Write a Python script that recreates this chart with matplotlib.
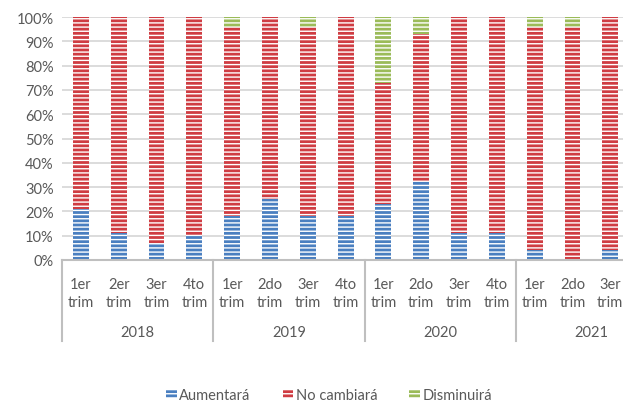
import matplotlib.pyplot as plt
from matplotlib.patches import Patch
import numpy as np

plt.rcParams['font.family'] = ['Lato', 'DejaVu Sans']
plt.rcParams['hatch.linewidth'] = 1.0

# datos (porcentajes)
anios = ['2018', '2019', '2020', '2021']
trimestres = [['1er\ntrim', '2er\ntrim', '3er\ntrim', '4to\ntrim'],
              ['1er\ntrim', '2do\ntrim', '3er\ntrim', '4to\ntrim'],
              ['1er\ntrim', '2do\ntrim', '3er\ntrim', '4to\ntrim'],
              ['1er\ntrim', '2do\ntrim', '3er\ntrim']]
aumentara = [21, 11, 7, 10, 18, 25, 18, 18, 23, 32, 11, 11, 4, 0, 4]
disminuira = [0, 0, 0, 0, 4, 0, 4, 0, 27, 7, 0, 0, 4, 4, 0]
no_cambiara = [100 - a - d for a, d in zip(aumentara, disminuira)]

azul = '#4a7fc0'
rojo = '#cf3c42'
verde = '#9bbb59'
gris = '#595959'

fig = plt.figure(figsize=(6.23, 4.06), dpi=100)
# el grafico original esta recortado a la derecha (16 posiciones)
ax = fig.add_axes([62 / 623, 145 / 406, 605 / 623, 243 / 406])

x = np.arange(len(aumentara))
ancho = 0.42
a = np.array(aumentara)
n = np.array(no_cambiara)
d = np.array(disminuira)
ax.bar(x, a, ancho, color=azul, edgecolor='white', linewidth=0, hatch='----', zorder=2)
ax.bar(x, n, ancho, bottom=a, color=rojo, edgecolor='white', linewidth=0, hatch='----', zorder=2)
ax.bar(x, d, ancho, bottom=a + n, color=verde, edgecolor='white', linewidth=0, hatch='----', zorder=2)

ax.set_xlim(-0.5, 15.5)
ax.set_ylim(0, 100)
ax.set_yticks(range(0, 101, 10))
ax.set_yticklabels([f'{v}%' for v in range(0, 101, 10)], fontsize=10.5, color=gris)
ax.yaxis.grid(True, color='#d9d9d9', linewidth=1.3, zorder=0)
ax.tick_params(axis='y', length=0, pad=6)
ax.set_xticks([])
for s in ['top', 'right', 'left']:
    ax.spines[s].set_visible(False)
ax.spines['bottom'].set_color('#bfbfbf')
ax.spines['bottom'].set_linewidth(1.5)

tr = ax.get_xaxis_transform()
pos = 0
for anio, trims in zip(anios, trimestres):
    ax.plot([pos - 0.5, pos - 0.5], [0, -0.333], transform=tr, color='#bfbfbf',
            linewidth=1.5, clip_on=False)
    for i, t in enumerate(trims):
        ax.text(pos + i, -0.068, t, transform=tr, ha='center', va='top',
                fontsize=10.5, color=gris, linespacing=1.4)
    ax.text(pos + 1.5, -0.298, anio, transform=tr, ha='center', va='center',
            fontsize=10.5, color=gris)
    pos += 4
ax.plot([pos - 0.5, pos - 0.5], [0, -0.333], transform=tr, color='#bfbfbf',
        linewidth=1.5, clip_on=False)

handles = [Patch(facecolor=azul, edgecolor='white', linewidth=0, hatch='----'),
           Patch(facecolor=rojo, edgecolor='white', linewidth=0, hatch='----'),
           Patch(facecolor=verde, edgecolor='white', linewidth=0, hatch='----')]
fig.legend(handles, ['Aumentará', 'No cambiará', 'Disminuirá'], loc='center',
           bbox_to_anchor=(329 / 623, 1 - 396 / 406), ncol=3, frameon=False,
           fontsize=10.5, labelcolor=gris, handlelength=0.75, handleheight=0.55,
           handletextpad=0.15, columnspacing=2.2)

fig.savefig('out.png', dpi=100)
